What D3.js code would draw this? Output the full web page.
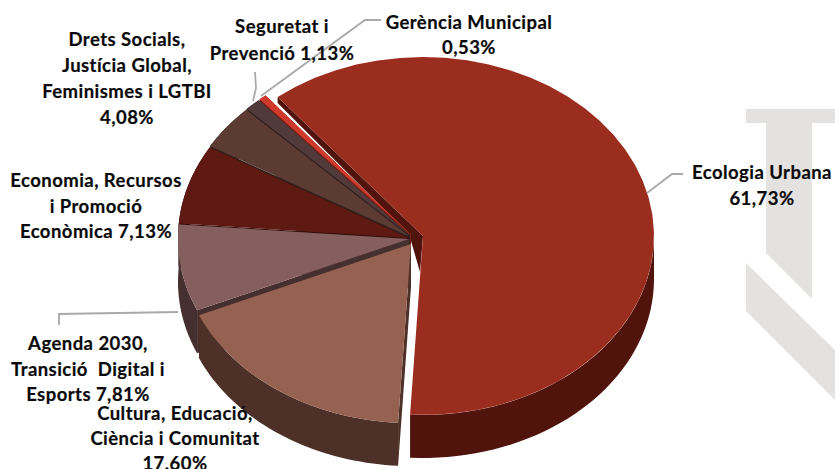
<!DOCTYPE html>
<html><head><meta charset="utf-8">
<style>html,body{margin:0;padding:0;background:#fff;overflow:hidden}svg{display:block}</style>
<script src="https://cdn.jsdelivr.net/npm/d3@7"></script></head>
<body><svg id="c" width="835" height="469"></svg>
<script>
const categories = ["Ecologia Urbana","Cultura, Educació, Ciència i Comunitat","Agenda 2030, Transició Digital i Esports","Economia, Recursos i Promoció Econòmica","Drets Socials, Justícia Global, Feminismes i LGTBI","Seguretat i Prevenció","Gerència Municipal"];
const values = [61.73,17.60,7.81,7.13,4.08,1.13,0.53];
const labelLines = [
  ["Ecologia Urbana","61,73%"],
  ["Cultura, Educació,","Ciència i Comunitat","17,60%"],
  ["Agenda 2030,","Transició  Digital i","Esports 7,81%"],
  ["Economia, Recursos","i Promoció","Econòmica 7,13%"],
  ["Drets Socials,","Justícia Global,","Feminismes i LGTBI","4,08%"],
  ["Seguretat i","Prevenció 1,13%"],
  ["Gerència Municipal","0,53%"]
];
const topColors  = ["#9b2d1f","#956251","#855e5e","#5e1a12","#5b3b32","#533a3a","#d03a2c"];
const sideColors = ["#50140c","#4d3027","#46302f","#300c08","#33211c","#2e2020","#7a1f16"];

// layout (not data)
const rx=231, ry=179, depth=43;
const centers=[[423,236],[411,244],[409,239],[409,238],[409.5,236.5],[410,235.5],[411,234.5]];
const labelPos=[[762,179],[175,420],[88,350],[96,187],[127,46],[282,33],[469,29]];
const lineH=[26,25,25.5,25.5,26,27,25];
const leaders=[
 [[647,193],[672,174],[683,174]],
 [[178,312],[59,314],[59,325]],
 [[253,101],[256,88],[255,72]],
 [[261,96],[365,20],[381,20]]
];
const svg=d3.select("#c");

// watermark
const wm=[[[746,109],[835,109],[835,123],[812,123],[812,299],[766,253],[766,123],[746,123]],
          [[746,263],[835,350],[835,400],[746,311]]];
svg.selectAll("polygon.wm").data(wm).join("polygon").attr("class","wm")
   .attr("points",d=>d.join(" ")).attr("fill","#e3e2e0");

const pie=d3.pie().sort(null).value(d=>d).startAngle(-39*Math.PI/180).endAngle(321*Math.PI/180);
const arcs=pie(values);
const pt=(i,t,dy=0)=>[centers[i][0]+rx*Math.sin(t),centers[i][1]-ry*Math.cos(t)+dy];
const arcPts=(i,t0,t1,dy=0)=>d3.range(0,41).map(k=>pt(i,t0+(t1-t0)*k/40,dy));
const line=d3.line();

// main slice: back cut wall
{
 const A=centers[0],P=pt(0,arcs[0].startAngle);
 svg.append("path").attr("fill",sideColors[0])
    .attr("d",line([P,A,[A[0]-3,A[1]+36],[A[0]-14,A[1]-2],[P[0],P[1]+6]])+"Z");
}
// back to front
[6,5,4,3,2,1,0].forEach(i=>{
  const a=arcs[i],c=centers[i];
  const top=arcPts(i,a.startAngle,a.endAngle);
  const g=svg.append("g");
  if(i!==0){
    const bot=arcPts(i,a.startAngle,a.endAngle,depth);
    g.append("path").attr("fill",sideColors[i]).attr("d",line(top.concat(bot.slice().reverse()))+"Z");
    g.append("path").attr("fill",sideColors[i]).attr("d",line([c,top[0],bot[0],[c[0],c[1]+depth]])+"Z");
    g.append("path").attr("fill",sideColors[i]).attr("d",line([c,top[40],bot[40],[c[0],c[1]+depth]])+"Z");
  } else {
    // main slice only shows its outer wall on the front half
    const ft=arcPts(i,Math.PI/2,a.endAngle),fb=arcPts(i,Math.PI/2,a.endAngle,depth);
    g.append("path").attr("fill",sideColors[i]).attr("d",line(ft.concat(fb.slice().reverse()))+"Z");
  }
  g.append("path").attr("fill",topColors[i]).attr("d",line([c].concat(top))+"Z");
});

// leaders
svg.selectAll("path.l").data(leaders).join("path").attr("class","l")
   .attr("d",d=>line(d)).attr("fill","none").attr("stroke","#a9a9a9").attr("stroke-width",1.8);

// labels
labelLines.forEach((ls,i)=>{
  const t=svg.append("text").attr("text-anchor","middle")
     .attr("font-family","Lato, Carlito, sans-serif").attr("font-weight",700)
     .attr("font-size",18.5).attr("letter-spacing",0.45).attr("fill","#0a0a0a")
     .attr("stroke","#0a0a0a").attr("stroke-width",0.2);
  ls.forEach((s,k)=>t.append("tspan").attr("x",labelPos[i][0]).attr("y",labelPos[i][1]+k*lineH[i]).attr("xml:space","preserve").text(s));
});
</script></body></html>
